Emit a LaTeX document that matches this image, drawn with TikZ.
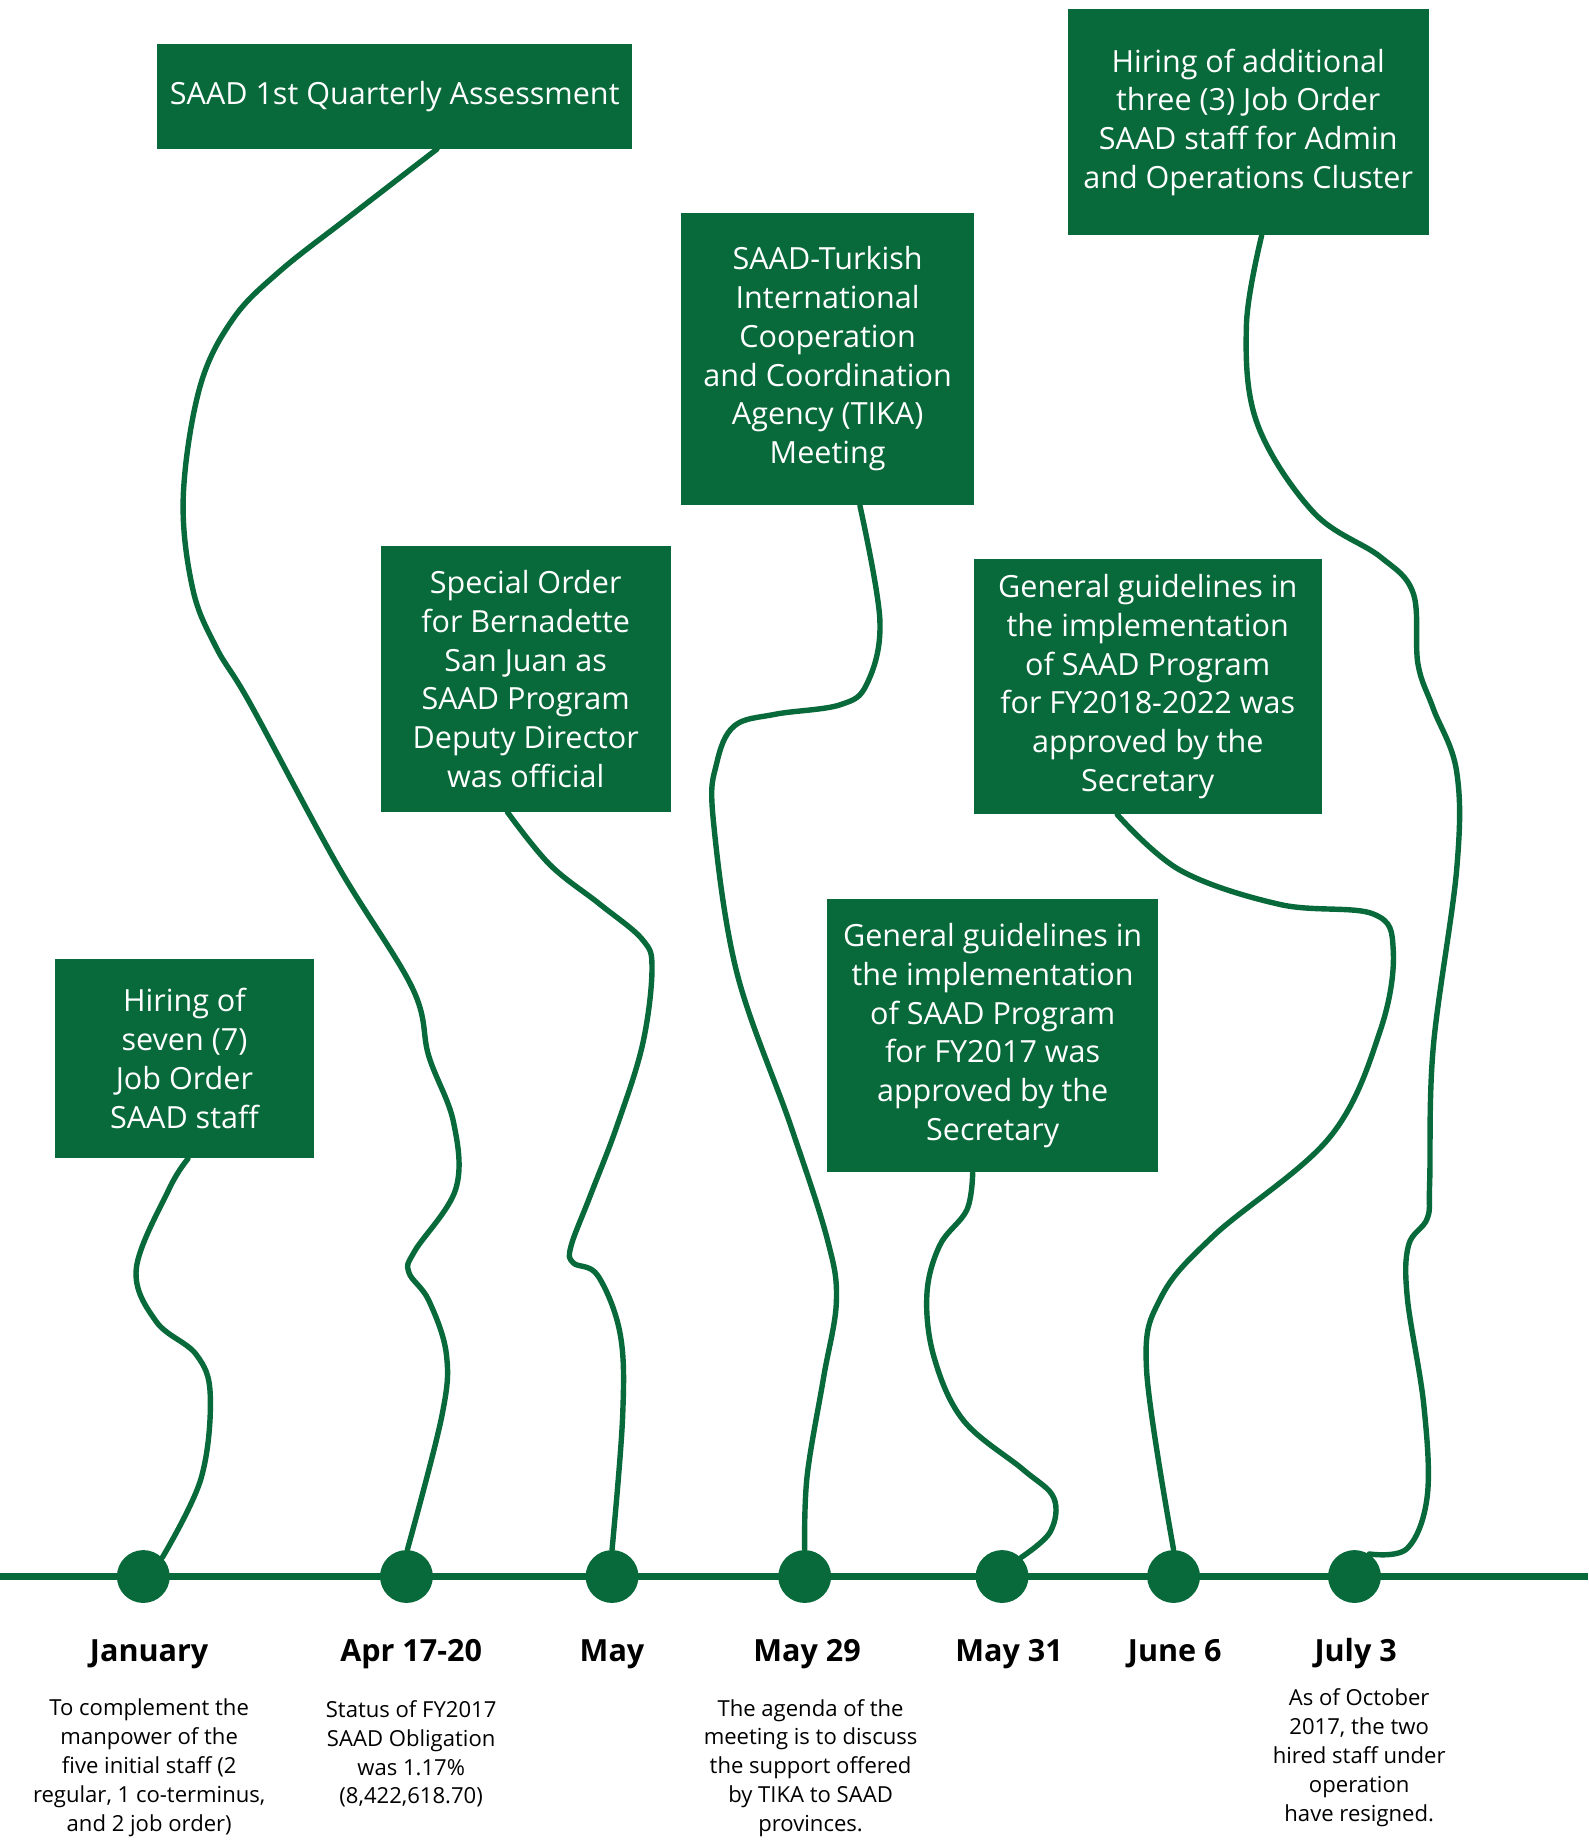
\documentclass[tikz,border=0pt]{standalone}
\usepackage{fontspec}
\setmainfont{Open Sans}
\definecolor{saadgreen}{RGB}{8,105,58}
\tikzset{event box/.style={
    fill=saadgreen, text=white, inner sep=0pt, align=center,
    font=\fontsize{13}{16.5}\selectfont,
  },
  date dot/.style={circle, fill=saadgreen, minimum size=22.5pt, inner sep=0pt},
  date label/.style={font=\fontsize{13}{15}\selectfont\bfseries},
  date note/.style={align=center, font=\fontsize{9.4}{12.3}\selectfont},
  link/.style={draw=saadgreen, line width=2.3pt, line cap=round, line join=round},
}

\begin{document}
\begin{tikzpicture}[x=0.5pt, y=-0.5pt]
\useasboundingbox (0,0) rectangle (1352,1568);
\coordinate (line start) at (0,1342);
\coordinate (line end) at (1352,1342);
\draw[saadgreen, line width=2.8pt] (line start) -- (line end);

\foreach \name/\x/\lx/\date in
  {jan/122/127/January, apr/346/350/Apr 17-20, may/521/521/May,
   mayb/685/687/May 29, mayc/853/859/May 31, june/999/1000/June 6,
   july/1153/1154/July 3}
  {\node[name=\name, date dot] at (\x,1342) {};
   \node[name=\name\space label, date label] at (\lx,1408) {\date};}

\node[name=quarterly, event box, minimum width=202pt, minimum height=44.5pt]
  at (336,82) {SAAD 1st Quarterly Assessment};
\node[name=additional, event box, minimum width=153.5pt, minimum height=96pt]
  at (1062.5,104) {Hiring of additional\\three (3) Job Order\\SAAD staff for Admin\\and Operations Cluster};
\node[name=tika, event box, minimum width=124.5pt, minimum height=124.5pt]
  at (704.5,305.5) {SAAD-Turkish\\International\\Cooperation\\and Coordination\\Agency (TIKA)\\Meeting};
\node[name=special, event box, minimum width=123.5pt, minimum height=113pt]
  at (447.5,578) {Special Order\\for Bernadette\\San Juan as\\SAAD Program\\Deputy Director\\was official};
\node[name=plan, event box, minimum width=148pt, minimum height=108.5pt]
  at (977,584.5) {General guidelines in\\the implementation\\of SAAD Program\\for FY2018-2022 was\\approved by the\\Secretary};
\node[name=guide, event box, minimum width=141pt, minimum height=116.5pt]
  at (845,881.5) {General guidelines in\\the implementation\\of SAAD Program\\for FY2017 was\\approved by the\\Secretary};
\node[name=seven, event box, minimum width=110pt, minimum height=85pt]
  at (157,901) {Hiring of\\seven (7)\\Job Order\\SAAD staff};

\node[name=jan note, date note] at (127,1505)
  {To complement the\\manpower of the\\five initial staff (2\\regular, 1 co-terminus,\\and 2 job order)};
\node[name=apr note, date note] at (350,1493)
  {Status of FY2017\\SAAD Obligation\\was 1.17\%\\(8,422,618.70)};
\node[name=mayb note, date note] at (690,1505)
  {The agenda of the\\meeting is to discuss\\the support offered\\by TIKA to SAAD\\provinces.};
\node[name=july note, date note] at (1157,1496)
  {As of October\\2017, the two\\hired staff under\\operation\\have resigned.};

\draw[link] plot[smooth, tension=0.6] coordinates {([xshift=18pt]quarterly.south)
  (298,184) (238,231) (198,272) (170,330) (156,423) (164,501) (184,551) (213,599)
  (287,736) (351,841) (365,899) (386,955) (388,1012) (353,1065) (348,1083)
  (365,1107) (380,1153) (376,1206) (apr.88)};
\draw[link] plot[smooth, tension=0.6] coordinates {([xshift=-7.75pt]special.south)
  (468,736) (511,770) (547,800) (555,825) (547,889) (525,959) (502,1019) (486,1061)
  (488,1075) (509,1086) (528,1136) (530,1206) (may.north)};
\draw[link] plot[smooth, tension=0.6] coordinates {([xshift=13.75pt]tika.south)
  (749,528) (738,582) (715,600) (660,608) (625,618) (610,650) (607,696) (627,827)
  (673,958) (704,1054) (712,1107) (701,1173) (687,1257) (mayb.north)};
\draw[link] plot[smooth, tension=0.6] coordinates {([xshift=-8.5pt]guide.south)
  (823,1030) (800,1060) (789,1102) (795,1155) (820,1209) (871,1251) (897,1275)
  (894,1304) (mayc.45)};
\draw[link] plot[smooth, tension=0.6] coordinates {([xshift=-13pt]plan.south)
  (1005,741) (1090,770) (1169,778) (1186,809) (1175,877) (1132,968) (1033,1052)
  (988,1105) (976,1166) (june.north)};
\draw[link] plot[smooth, tension=0.6] coordinates {([xshift=5.75pt]additional.south)
  (1061,277) (1070,360) (1118,436) (1175,474) (1203,505) (1207,565) (1220,603)
  (1240,657) (1240,740) (1220,892) (1217,1006) (1215,1037) (1199,1060) (1198,1105)
  (1212,1196) (1215,1273) (1198,1318) (july.57)};
\draw[link] plot[smooth, tension=0.6] coordinates {([xshift=1.5pt]seven.south)
  (144,1012) (116,1080) (133,1125) (167,1153) (179,1188) (171,1259) (jan.45)};
\end{tikzpicture}
\end{document}
